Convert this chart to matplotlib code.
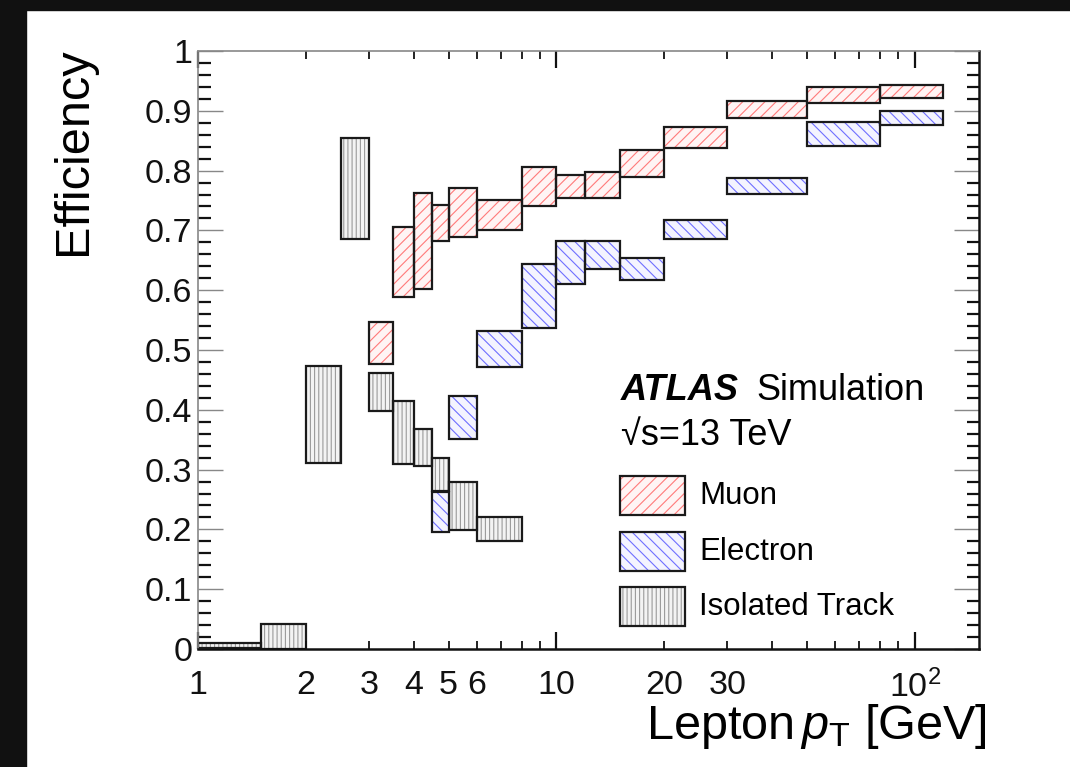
import numpy as np
import matplotlib
matplotlib.use("Agg")
import matplotlib.pyplot as plt
from matplotlib.patches import Rectangle
from matplotlib.ticker import FixedLocator, FuncFormatter

plt.rcParams['font.family'] = ['Liberation Sans', 'DejaVu Sans']
plt.rcParams['mathtext.fontset'] = 'custom'
plt.rcParams['mathtext.rm'] = 'Liberation Sans'
plt.rcParams['mathtext.it'] = 'Liberation Sans:italic'
plt.rcParams['mathtext.bf'] = 'Liberation Sans:bold'
plt.rcParams['hatch.linewidth'] = 0.8

# bin edges and efficiency bands (low, high)
muon_edges = [3, 3.5, 4, 4.5, 5, 6, 8, 10, 12, 15, 20, 30, 50, 80, 120]
muon_low = [0.477, 0.589, 0.602, 0.682, 0.689, 0.701, 0.741, 0.754, 0.754, 0.789, 0.838, 0.888, 0.913, 0.921]
muon_high = [0.547, 0.706, 0.762, 0.742, 0.771, 0.751, 0.806, 0.792, 0.797, 0.834, 0.873, 0.916, 0.940, 0.943]

electron_edges = [4.5, 5, 6, 8, 10, 12, 15, 20, 30, 50, 80, 120]
electron_low = [0.195, 0.351, 0.471, 0.537, 0.610, 0.635, 0.617, 0.686, 0.761, 0.841, 0.876]
electron_high = [0.262, 0.423, 0.532, 0.644, 0.682, 0.682, 0.654, 0.717, 0.788, 0.881, 0.900]

track_edges = [1, 1.5, 2, 2.5, 3, 3.5, 4, 4.5, 5, 6, 8]
track_low = [0.002, 0.0, 0.311, 0.686, 0.398, 0.309, 0.306, 0.264, 0.199, 0.181]
track_high = [0.010, 0.041, 0.473, 0.855, 0.462, 0.415, 0.368, 0.319, 0.279, 0.221]

series = [
    ("Isolated Track", track_edges, track_low, track_high, "#f3f3f3", "#9a9a9a", "||||"),
    ("Electron", electron_edges, electron_low, electron_high, "#f4f4ff", "#6f6fff", "\\\\\\"),
    ("Muon", muon_edges, muon_low, muon_high, "#fff4f4", "#ff7a7a", "///"),
]

W, H = 1070, 767
fig = plt.figure(figsize=(W / 100, H / 100), dpi=100)
fig.patch.set_facecolor("white")

def fx(px):
    return px / W

def fy(py):
    return 1 - py / H

ax = fig.add_axes([fx(198), fy(649), fx(979) - fx(198), fy(51) - fy(649)])

for name, edges, lo, hi, face, hcol, hatch in series:
    edges = np.array(edges)
    lo = np.array(lo)
    hi = np.array(hi)
    ax.bar(edges[:-1], hi - lo, width=np.diff(edges), bottom=lo, align="edge",
           color=face, edgecolor=hcol, hatch=hatch, linewidth=0)
    ax.bar(edges[:-1], hi - lo, width=np.diff(edges), bottom=lo, align="edge",
           fill=False, edgecolor="#1a1a1a", linewidth=1.6)

ax.set_xscale("log")
ax.set_xlim(1, 151)
ax.set_ylim(0, 1)

major_x = [1, 10, 100]
major_labels = {1: "1", 10: "10", 100: "$10^{2}$"}
minor_x = [2, 3, 4, 5, 6, 7, 8, 9, 20, 30, 40, 50, 60, 70, 80, 90]
minor_labeled = [2, 3, 4, 5, 6, 20, 30]
ax.xaxis.set_major_locator(FixedLocator(major_x))
ax.xaxis.set_minor_locator(FixedLocator(minor_x))
ax.xaxis.set_major_formatter(FuncFormatter(lambda v, p: major_labels.get(int(round(v)), "")))
ax.xaxis.set_minor_formatter(FuncFormatter(lambda v, p: str(int(round(v))) if int(round(v)) in minor_labeled else ""))

ax.yaxis.set_major_locator(FixedLocator(np.arange(0, 1.01, 0.1)))
ax.yaxis.set_minor_locator(FixedLocator(np.arange(0, 1.001, 0.02)))
ax.yaxis.set_major_formatter(FuncFormatter(lambda v, p: f"{v:.1f}".rstrip("0").rstrip(".") if v > 0 else "0"))

ax.tick_params(axis="both", which="both", direction="in", top=True, right=True, labelsize=24.5, colors="#111111")
ax.tick_params(axis="y", which="major", length=18, width=1.0, color="#888888", pad=4)
ax.tick_params(axis="y", which="minor", length=9, width=1.6)
ax.tick_params(axis="x", which="major", length=12, width=1.6, pad=15)
ax.tick_params(axis="x", which="minor", length=6, width=1.3, pad=15)
for lbl in ax.get_xticklabels(which="both"):
    lbl.set_fontsize(24.5)

for side in ["left", "top"]:
    ax.spines[side].set_color("#888888")
    ax.spines[side].set_linewidth(1.2)
for side in ["right", "bottom"]:
    ax.spines[side].set_color("#111111")
    ax.spines[side].set_linewidth(1.8)

ax.set_xlabel("Lepton$\\,p_{\\mathrm{T}}$ [GeV]", fontsize=35, loc="right")
ax.xaxis.set_label_coords(1.01, -0.088)
fig.text(fx(74), fy(47), "Efficiency", rotation=90, fontsize=35, ha="center", va="top")

# ATLAS label
fig.text(fx(621), fy(400), "ATLAS", fontsize=26, fontweight="bold", style="italic", va="baseline")
fig.text(fx(756), fy(400), "Simulation", fontsize=26, va="baseline")
fig.text(fx(621), fy(445), "\u221as=13 TeV", fontsize=26, va="baseline")

# legend
legend_rows = [(476, "Muon"), (532, "Electron"), (587, "Isolated Track")]
for (top, label), (name, edges, lo, hi, face, hcol, hatch) in zip(legend_rows, series[::-1]):
    fig.add_artist(Rectangle((fx(620), fy(top + 39)), fx(65), 39 / H, transform=fig.transFigure,
                             facecolor=face, edgecolor=hcol, hatch=hatch, linewidth=0))
    fig.add_artist(Rectangle((fx(620), fy(top + 39)), fx(65), 39 / H, transform=fig.transFigure,
                             fill=False, edgecolor="#1a1a1a", linewidth=1.6))
    fig.text(fx(699), fy(top + 20), label, fontsize=22.5, va="center")

# dark frame on top and left of the screenshot
fig.add_artist(Rectangle((0, 0), fx(26), 1, transform=fig.transFigure, color="#111111", zorder=10))
fig.add_artist(Rectangle((0, fy(10)), 1, 10 / H, transform=fig.transFigure, color="#111111", zorder=10))

fig.savefig("out.png", dpi=100)
